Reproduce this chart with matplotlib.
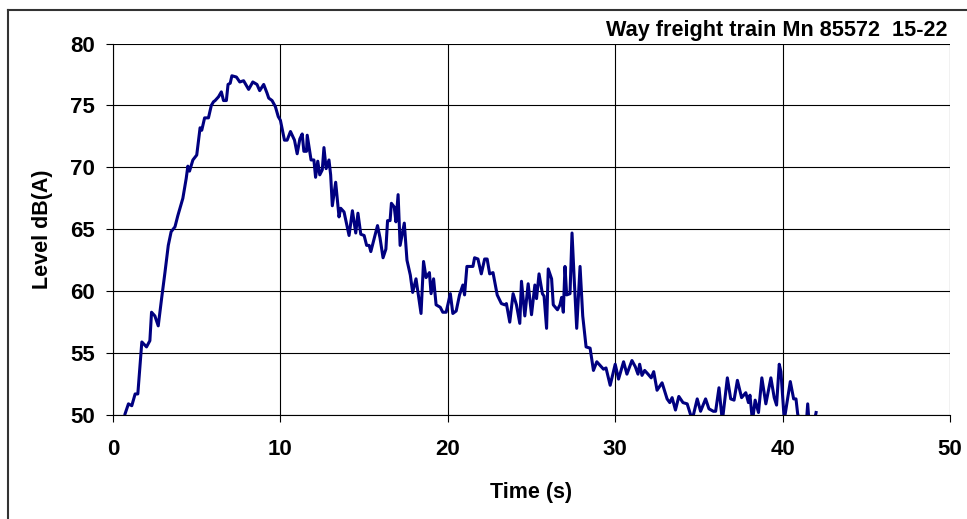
import matplotlib
matplotlib.use("Agg")
import matplotlib.pyplot as plt

plt.rcParams['font.family'] = ['Liberation Sans', 'DejaVu Sans']
plt.rcParams['font.weight'] = 'bold'

# sound level record of the passing train
time_s = [0.72, 0.92, 1.12, 1.32, 1.48, 1.72, 2.0, 2.2, 2.3, 2.5, 2.7, 2.9, 3.1, 3.3, 3.47, 3.7,
          3.87, 4.17, 4.37, 4.47, 4.57, 4.77, 5.0, 5.2, 5.3, 5.47, 5.7, 5.87, 6.0, 6.1, 6.3, 6.47,
          6.6, 6.77, 6.87, 7.0, 7.1, 7.37, 7.57, 7.8, 8.1, 8.35, 8.6, 8.76, 9.0, 9.2, 9.3, 9.5,
          9.7, 9.87, 10.0, 10.24, 10.4, 10.6, 10.84, 11.0, 11.16, 11.3, 11.4, 11.56, 11.6, 11.83,
          12.0, 12.1, 12.23, 12.35, 12.5, 12.6, 12.73, 12.9, 13.0, 13.1, 13.3, 13.5, 13.6, 13.8,
          14.1, 14.3, 14.5, 14.63, 14.8, 15.0, 15.15, 15.3, 15.4, 15.8, 15.95, 16.13, 16.3, 16.4,
          16.55, 16.63, 16.8, 16.9, 17.03, 17.15, 17.4, 17.56, 17.76, 17.9, 18.1, 18.4, 18.55,
          18.7, 18.9, 19.0, 19.15, 19.3, 19.55, 19.7, 19.9, 20.15, 20.3, 20.5, 20.7, 20.9, 21.0,
          21.14, 21.3, 21.5, 21.6, 21.8, 22.0, 22.2, 22.35, 22.5, 22.7, 22.95, 23.2, 23.4, 23.5,
          23.7, 23.9, 24.1, 24.3, 24.4, 24.6, 24.8, 25.0, 25.2, 25.3, 25.45, 25.65, 25.75, 25.9,
          26.0, 26.2, 26.3, 26.55, 26.7, 26.8, 26.9, 27.0, 27.1, 27.3, 27.42, 27.55, 27.7, 27.9,
          28.06, 28.26, 28.5, 28.7, 28.9, 29.1, 29.3, 29.45, 29.7, 30.0, 30.2, 30.5, 30.7, 31.0,
          31.2, 31.36, 31.46, 31.6, 31.76, 31.96, 32.15, 32.3, 32.5, 32.8, 33.1, 33.26, 33.4,
          33.6, 33.8, 34.05, 34.3, 34.6, 34.9, 35.1, 35.4, 35.6, 35.86, 36.0, 36.2, 36.4, 36.7,
          36.9, 37.1, 37.3, 37.55, 37.8, 37.96, 38.05, 38.2, 38.36, 38.56, 38.76, 39.0, 39.3,
          39.5, 39.64, 39.8, 39.9, 40.1, 40.46, 40.66, 40.8, 40.9, 41.1, 41.4, 41.5, 41.6, 41.9,
          42.0]
level_db = [50.1, 50.9, 50.75, 51.7, 51.7, 55.9, 55.5, 56.0, 58.3, 58.0, 57.2, 59.4, 61.5, 63.7,
            64.8, 65.2, 66.1, 67.5, 69.1, 70.1, 69.7, 70.6, 71.0, 73.2, 73.0, 74.0, 74.0, 75.0,
            75.3, 75.4, 75.7, 76.1, 75.4, 75.4, 76.7, 76.8, 77.4, 77.3, 76.9, 77.0, 76.3, 76.9,
            76.7, 76.2, 76.7, 76.0, 75.6, 75.4, 74.9, 74.1, 73.8, 72.2, 72.2, 72.9, 72.2, 71.1,
            72.3, 72.7, 71.3, 71.3, 72.6, 70.6, 70.6, 69.2, 70.5, 69.4, 69.8, 71.6, 69.9, 70.6,
            69.4, 66.9, 68.8, 66.0, 66.7, 66.4, 64.5, 66.5, 64.7, 66.3, 64.6, 64.5, 63.7, 63.7,
            63.2, 65.3, 64.3, 62.7, 63.4, 65.7, 65.7, 67.1, 66.8, 65.6, 67.8, 63.7, 65.5, 62.5,
            61.3, 59.9, 61.0, 58.2, 62.4, 61.1, 61.5, 59.8, 61.0, 58.9, 58.7, 58.3, 58.3, 59.8,
            58.2, 58.4, 59.7, 60.5, 59.7, 62.0, 62.0, 62.0, 62.7, 62.6, 61.4, 62.6, 62.6, 61.4,
            61.5, 59.7, 59.0, 58.9, 59.0, 57.5, 59.8, 58.9, 57.4, 60.8, 58.0, 60.6, 58.1, 60.5,
            59.4, 61.4, 59.8, 59.6, 57.0, 61.8, 61.0, 58.9, 58.5, 58.9, 59.5, 58.3, 62.0, 59.7,
            59.8, 64.7, 61.0, 57.0, 62.0, 58.0, 55.5, 55.4, 53.6, 54.3, 54.0, 53.7, 53.8, 52.4,
            54.1, 52.9, 54.3, 53.3, 54.4, 53.9, 53.3, 54.1, 53.2, 53.6, 53.3, 53.0, 53.5, 52.0,
            52.6, 51.3, 51.0, 51.4, 50.4, 51.5, 51.0, 50.9, 49.6, 51.3, 50.3, 51.3, 50.5, 50.3,
            50.3, 52.2, 49.5, 53.0, 51.3, 51.2, 52.8, 51.4, 51.8, 51.0, 51.6, 49.5, 51.2, 50.2,
            53.0, 50.9, 53.0, 51.4, 50.8, 54.1, 53.5, 49.6, 52.7, 51.3, 51.3, 50.1, 49.0, 49.0,
            50.9, 49.0, 49.5, 50.2]

x_ticks = [0, 10, 20, 30, 40, 50]
y_ticks = [50, 55, 60, 65, 70, 75, 80]

fig = plt.figure(figsize=(9.67, 5.19), dpi=100)
ax = fig.add_axes([0.1169, 0.2004, 0.8655, 0.7156])

ax.plot(time_s, level_db, color='#000080', lw=2.2, solid_joinstyle='round')

ax.set_xlim(0, 50)
ax.set_ylim(50, 80)
ax.set_xticks(x_ticks)
ax.set_yticks(y_ticks)
ax.grid(True, color='black', lw=0.8)
ax.set_axisbelow(True)
for side in ['top', 'right']:
    ax.spines[side].set_visible(False)
for side in ['left', 'bottom']:
    ax.spines[side].set_linewidth(0.8)
ax.tick_params(direction='out', length=5, width=0.8, labelsize=16, pad=8)
ax.tick_params(axis='x', pad=12)

ax.set_xlabel('Time (s)', fontsize=15.5, fontweight='bold', labelpad=16)
ax.set_ylabel('Level dB(A)', fontsize=15.5, fontweight='bold', labelpad=12)

fig.text(0.980, 0.942, 'Way freight train Mn 85572  15-22', ha='right', va='center',
         fontsize=15.6, fontweight='bold')

# chart frame, left and top edges only
fig.add_artist(plt.Line2D([8 / 967, 8 / 967], [0, 1 - 10 / 519], color='#333333', lw=1.5,
                          transform=fig.transFigure))
fig.add_artist(plt.Line2D([8 / 967, 1], [1 - 10 / 519, 1 - 10 / 519], color='#333333', lw=1.5,
                          transform=fig.transFigure))

fig.savefig('out.png', dpi=100)
